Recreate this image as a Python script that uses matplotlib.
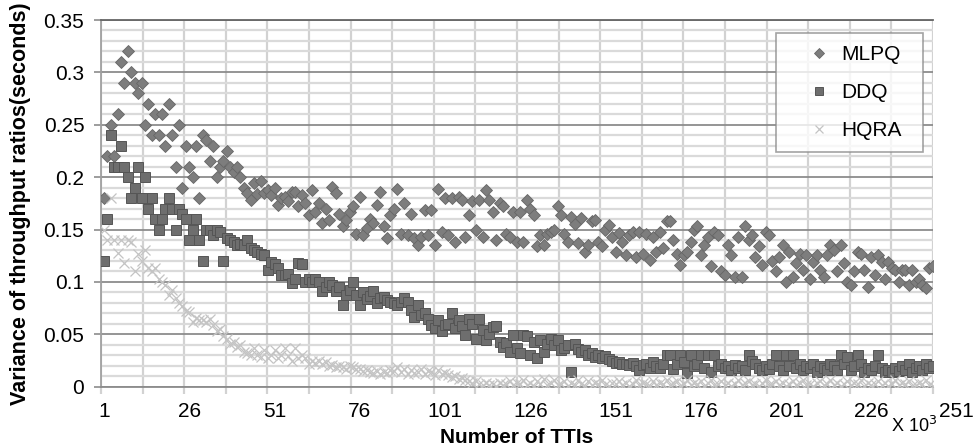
import numpy as np
import matplotlib
matplotlib.use('Agg')
import matplotlib.pyplot as plt
from matplotlib.ticker import FuncFormatter
import matplotlib.transforms as mtransforms

plt.rcParams['font.family'] = ['Liberation Sans', 'DejaVu Sans']

# values, one per TTI index (x = 1, 2, 3, ...)
mlpq = [.18, .22, .25, .22, .26, .31, .29, .32, .30, .29,
        .28, .29, .25, .27, .24, .26, .24, .26, .23, .27,
        .24, .21, .25, .19, .23, .21, .20, .23, .18, .24,
        .235, .215, .23, .20, .21, .215, .225, .21, .205, .21,
        .20, .19, .185, .178, .194, .184, .196, .185, .188, .183,
        .19, .173, .18, .181, .177, .186, .186, .172, .183, .175,
        .164, .188, .167, .175, .156, .17, .159, .191, .185, .165,
        .153, .159, .167, .172, .146, .181, .145, .151, .16, .156,
        .173, .186, .153, .142, .164, .17, .189, .146, .175, .145,
        .165, .142, .135, .143, .169, .145, .169, .135, .189, .148,
        .18, .145, .18, .138, .181, .178, .143, .164, .177, .15,
        .178, .143, .188, .178, .167, .14, .175, .172, .146, .143,
        .167, .138, .167, .138, .178, .17, .164, .134, .145, .135,
        .146, .148, .15, .172, .164, .146, .138, .162, .155, .137,
        .161, .129, .135, .158, .159, .138, .134, .15, .154, .143,
        .129, .147, .138, .126, .145, .148, .124, .148, .127, .146,
        .121, .143, .129, .148, .132, .158, .158, .14, .127, .116,
        .126, .129, .138, .15, .153, .126, .135, .143, .115, .148,
        .145, .11, .107, .135, .126, .105, .143, .105, .153, .14,
        .145, .124, .134, .116, .148, .145, .12, .11, .124, .135,
        .10, .129, .105, .118, .127, .111, .126, .103, .119, .126,
        .111, .105, .126, .135, .13, .11, .135, .118, .10, .097,
        .11, .129, .127, .111, .095, .124, .107, .126, .119, .103,
        .119, .113, .111, .10, .111, .111, .097, .111, .10, .103,
        .097, .094, .113, .115]

ddq = [.12, .16, .24, .21, .21, .23, .21, .20, .18, .19,
       .21, .18, .20, .17, .18, .16, .15, .16, .17, .18,
       .17, .15, .17, .165, .16, .14, .15, .16, .14, .12,
       .15, .15, .145, .15, .148, .12, .142, .14, .138, .135,
       .136, .135, .14, .132, .13, .129, .127, .126, .111, .119,
       .117, .113, .107, .107, .108, .099, .103, .118, .117, .10,
       .103, .10, .103, .10, .091, .095, .10, .097, .091, .095,
       .078, .088, .092, .10, .088, .078, .09, .084, .087, .091,
       .08, .085, .086, .083, .081, .08, .078, .081, .085, .081,
       .073, .067, .078, .068, .07, .065, .059, .056, .064, .053,
       .059, .06, .07, .056, .064, .058, .049, .065, .06, .046,
       .065, .054, .045, .05, .057, .058, .043, .038, .042, .033,
       .049, .037, .032, .049, .048, .03, .043, .027, .045, .033,
       .041, .046, .04, .045, .035, .037, .04, .014, .041, .036,
       .033, .035, .03, .032, .028, .03, .027, .029, .026, .025,
       .023, .024, .022, .022, .021, .023, .02, .016, .021, .022,
       .018, .024, .02, .018, .022, .03, .03, .017, .022, .03,
       .024, .013, .03, .02, .022, .03, .018, .03, .014, .03,
       .02, .022, .018, .02, .016, .021, .018, .02, .016, .03,
       .025, .022, .018, .016, .02, .017, .022, .03, .02, .016,
       .03, .02, .03, .018, .022, .016, .02, .018, .022, .014,
       .02, .018, .016, .022, .02, .016, .03, .022, .028, .016,
       .02, .03, .022, .014, .018, .016, .02, .03, .018, .014,
       .016, .014, .018, .015, .02, .016, .022, .014, .018, .02,
       .016, .022, .018, .02]

hqra = [.15, .14, .18, .14, .128, .14, .118, .14, .138, .11,
        .127, .12, .13, .113, .11, .113, .103, .10, .097, .088,
        .092, .085, .08, .077, .072, .071, .062, .066, .064, .064,
        .062, .065, .059, .053, .055, .048, .046, .041, .043, .038,
        .04, .033, .032, .03, .037, .03, .028, .035, .027, .03,
        .035, .027, .03, .037, .029, .025, .037, .027, .03, .027,
        .022, .025, .023, .025, .022, .024, .02, .021, .019, .02,
        .019, .017, .02, .019, .017, .017, .015, .016, .014, .013,
        .015, .012, .014, .013, .016, .015, .019, .014, .017, .012,
        .016, .013, .014, .017, .012, .015, .014, .011, .016, .012,
        .013, .011, .009, .01, .007, .008, .006, .005, .004, .005,
        .003, .002, .004, .002, .003, .001, .004, .002, .003, .005,
        .002, .004, .003, .006, .002, .004, .001, .005, .003, .007,
        .002, .004, .006, .002, .003, .005, .001, .004, .002, .006,
        .003, .001, .005, .002, .004, .003, .006, .002, .001, .004,
        .003, .005, .002, .004, .001, .003, .006, .002, .004, .003,
        .001, .005, .002, .004, .003, .006, .002, .004, .005, .001,
        .003, .006, .002, .004, .003, .005, .001, .004, .006, .002,
        .003, .005, .002, .004, .001, .003, .006, .002, .004, .005,
        .002, .003, .001, .004, .006, .002, .003, .005, .002, .004,
        .001, .003, .005, .002, .004, .006, .002, .003, .001, .004,
        .005, .002, .003, .006, .002, .004, .001, .003, .005, .002,
        .004, .003, .006, .001, .004, .002, .003, .005, .002, .004,
        .001, .003, .006, .002, .004, .003, .005, .001, .002, .004,
        .003, .006, .002, .001]

x_labels = list(range(1, 252, 25))
y_ticks = [0, 0.05, 0.1, 0.15, 0.2, 0.25, 0.3, 0.35]

fig = plt.figure(figsize=(9.76, 4.48), dpi=100)
ax = fig.add_axes([101/976, 1-386.7/448, 832/976, 366.7/448])

x_lo, x_hi = 0.12, 244.1
ax.set_xlim(x_lo, x_hi)
ax.set_ylim(0, 0.35)

# grid: dark lines every 0.05, light every 0.01, 20 vertical divisions
ax.set_yticks(y_ticks)
ax.set_yticks(np.arange(0, 0.351, 0.01), minor=True)
ax.set_xticks(x_labels[:-1])
ax.set_xticks(np.linspace(x_lo, x_hi, 21), minor=True)
ax.yaxis.set_major_formatter(FuncFormatter(lambda v, p: '%g' % round(v, 2)))
ax.grid(which='minor', axis='y', color='#dadada', lw=1.6, zorder=0)
ax.grid(which='major', axis='y', color='#8c8c8c', lw=1.3, zorder=0.5)
ax.grid(which='minor', axis='x', color='#d2d2d2', lw=1.6, zorder=0)
ax.set_axisbelow(True)

ax.spines['right'].set_visible(False)
ax.spines['top'].set_color('#666666')
ax.spines['top'].set_lw(1.3)
ax.spines['left'].set_color('#a0a0a0')
ax.spines['left'].set_lw(1.3)
ax.spines['bottom'].set_color('#8c8c8c')
ax.spines['bottom'].set_lw(1.3)

tick_fs = 15
ax.tick_params(axis='y', which='major', length=5, width=1.2, color='#8c8c8c', labelsize=tick_fs, pad=7)
ax.tick_params(axis='y', which='minor', length=0)
ax.tick_params(axis='x', which='major', length=0, labelsize=tick_fs, pad=11)
ax.tick_params(axis='x', which='minor', length=5, width=1.6, color='#d2d2d2')

# the last label (251) sits past the plot edge as in the original
trans = mtransforms.blended_transform_factory(ax.transData, ax.transAxes)
ax.text(x_labels[-1], 0, str(x_labels[-1]), fontsize=tick_fs, ha='center', va='top', clip_on=False,
        transform=trans + mtransforms.ScaledTranslation(0, -11 / 72, fig.dpi_scale_trans))

ax.plot(np.arange(1, len(mlpq) + 1), mlpq, ls='none', marker='D', ms=6.2,
        mfc='#7d7d7d', mec='#666666', mew=0.6, label='MLPQ', zorder=3)
ax.plot(np.arange(1, len(ddq) + 1), ddq, ls='none', marker='s', ms=7,
        mfc='#6e6e6e', mec='#555555', mew=0.7, label='DDQ', zorder=3)
ax.plot(np.arange(1, len(hqra) + 1), hqra, ls='none', marker='x', ms=6.5,
        mec='#c4c4c4', mew=0.9, label='HQRA', zorder=3)

ax.set_ylabel('Variance of throughput ratios(seconds)', fontsize=15.5, fontweight='bold', labelpad=9)
fig.text(517/976, 1-443/448, 'Number of TTIs', fontsize=15, fontweight='bold', ha='center', va='baseline')
fig.text(937/976, 1-432/448, 'X 10$^3$', fontsize=13, ha='right', va='baseline')

leg = ax.legend(loc='upper left', bbox_to_anchor=((776-101)/832, 1-(148-20)/366.7, 147/832, 115/366.7),
                mode='expand', fontsize=15, frameon=True, fancybox=False,
                borderpad=0.6, handlelength=2.9, handletextpad=-0.35, labelspacing=0.9,
                borderaxespad=0, markerscale=0.8)
leg.get_frame().set_edgecolor('#8c8c8c')
leg.get_frame().set_linewidth(1.2)

fig.savefig('out.png', dpi=100, facecolor='white')
